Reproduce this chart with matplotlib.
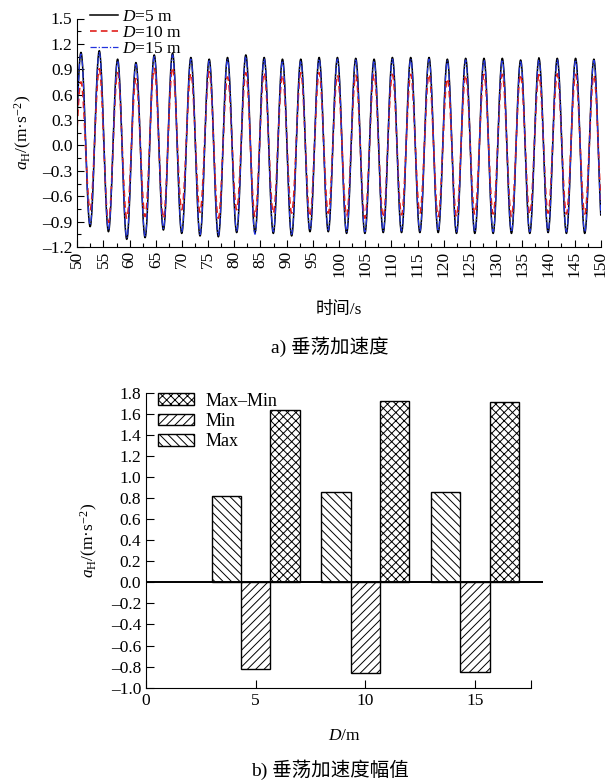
import numpy as np
import matplotlib
matplotlib.use('Agg')
import matplotlib.pyplot as plt
from matplotlib.patches import Patch
from matplotlib.lines import Line2D
from matplotlib.ticker import MultipleLocator, FixedLocator, FuncFormatter

plt.rcParams['font.family'] = ['Liberation Serif', 'Noto Sans CJK SC']
plt.rcParams['mathtext.fontset'] = 'custom'
plt.rcParams['mathtext.rm'] = 'Liberation Serif'
plt.rcParams['mathtext.it'] = 'Liberation Serif:italic'
plt.rcParams['hatch.linewidth'] = 0.7

# ---------------- data: (a) heave acceleration, extrema -------------
peak_times = [50.7, 54.2, 57.7, 61.2, 64.7, 68.2, 71.7, 75.2, 78.7, 82.2, 85.7, 89.2,
              92.7, 96.2, 99.7, 103.2, 106.7, 110.2, 113.7, 117.2, 120.7, 124.2,
              127.7, 131.2, 134.7, 138.2, 141.7, 145.2, 148.7]
trough_times = [48.95, 52.45, 55.95, 59.45, 62.95, 66.45, 69.95, 73.45, 76.95, 80.45,
                83.95, 87.45, 90.95, 94.45, 97.95, 101.45, 104.95, 108.45, 111.95,
                115.45, 118.95, 122.45, 125.95, 129.45, 132.95, 136.45, 139.95,
                143.45, 146.95, 150.35]

d5_peaks = [1.10, 1.12, 1.02, 0.98, 1.07, 1.09, 1.04, 1.02, 1.04, 1.07, 1.04, 1.02,
            1.02, 1.04, 1.04, 1.03, 1.02, 1.04, 1.04, 1.04, 1.02, 1.03, 1.03, 1.03,
            1.01, 1.03, 1.03, 1.03, 1.02]
d5_troughs = [-0.90, -0.96, -1.02, -1.11, -1.09, -1.00, -1.04, -1.07, -1.08, -1.03,
              -1.03, -1.04, -1.07, -1.02, -1.02, -1.04, -1.04, -1.03, -1.03, -1.03,
              -1.03, -1.04, -1.04, -1.04, -1.04, -1.04, -1.03, -1.04, -1.04, -1.03]

d10_peaks = [0.75, 0.90, 0.86, 0.79, 0.91, 0.92, 0.85, 0.87, 0.81, 0.86, 0.86, 0.83,
             0.86, 0.86, 0.83, 0.83, 0.84, 0.84, 0.84, 0.84, 0.79, 0.83, 0.84, 0.84,
             0.84, 0.83, 0.84, 0.84, 0.83]
d10_troughs = [-0.70, -0.76, -0.91, -0.86, -0.84, -0.86, -0.76, -0.79, -0.86, -0.76,
               -0.84, -0.80, -0.80, -0.84, -0.80, -0.83, -0.86, -0.85, -0.82, -0.80,
               -0.84, -0.84, -0.81, -0.81, -0.84, -0.81, -0.80, -0.81, -0.81, -0.81]

d15_peaks = [1.08, 1.10, 1.00, 0.96, 1.05, 1.07, 1.02, 1.00, 1.02, 1.05, 1.02, 1.00,
             1.00, 1.02, 1.02, 1.01, 1.00, 1.02, 1.02, 1.02, 1.00, 1.01, 1.01, 1.01,
             0.99, 1.01, 1.01, 1.01, 1.00]
d15_troughs = [-0.88, -0.94, -1.00, -1.09, -1.07, -0.98, -1.02, -1.05, -1.06, -1.01,
               -1.05, -1.02, -1.05, -1.00, -1.00, -1.02, -1.02, -1.01, -1.01, -1.01,
               -1.01, -1.02, -1.02, -1.02, -1.02, -1.02, -1.01, -1.02, -1.02, -1.01]

series_labels = ['$D$=5 m', '$D$=10 m', '$D$=15 m']

# ---------------- data: (b) amplitudes -------------
D_vals = [5, 10, 15]
max_vals = [0.82, 0.86, 0.86]
min_vals = [-0.82, -0.86, -0.85]
range_vals = [1.64, 1.72, 1.71]
bar_labels = ['Max\u2013Min', 'Min', 'Max']


def wave(tp, vp, tt, vt, n=30):
    times, vals = [], []
    for i in range(len(tp)):
        times += [tt[i], tp[i]]
        vals += [vt[i], vp[i]]
    times.append(tt[-1])
    vals.append(vt[-1])
    xs, ys = [], []
    s = np.linspace(0, 1, n)
    for a in range(len(times) - 1):
        t0, t1 = times[a], times[a + 1]
        y0, y1 = vals[a], vals[a + 1]
        xs.append(t0 + (t1 - t0) * s)
        ys.append((y0 + y1) / 2 + (y0 - y1) / 2 * np.cos(np.pi * s))
    return np.concatenate(xs), np.concatenate(ys)


def fmt1(v, pos=None):
    v = round(v, 2)
    if abs(v) < 1e-9:
        v = 0.0
    s = f'{abs(v):.1f}'
    return ('\u2013' + s) if v < 0 else s


fig = plt.figure(figsize=(6.08, 7.84), dpi=100)
FS = 12.5

# ---------------- (a) ----------------
ax1 = fig.add_axes([77.3 / 608, 1 - 247 / 784, (600.7 - 77.3) / 608, (247 - 18.5) / 784])
x5, y5 = wave(peak_times, d5_peaks, trough_times, d5_troughs)
x10, y10 = wave(peak_times, d10_peaks, trough_times, d10_troughs)
x15, y15 = wave(peak_times, d15_peaks, trough_times, d15_troughs)
ls10 = (0, (4, 2.5))
ls15 = (0, (5, 1.5, 1, 1.5))
ax1.plot(x5, y5, color='black', lw=1.1, ls='-')
ax1.plot(x10, y10, color='#e0201c', lw=1.2, ls=ls10)
ax1.plot(x15, y15, color='#2233dd', lw=0.9, ls=ls15)
ax1.set_xlim(50, 150)
ax1.set_ylim(-1.2, 1.5)
for sp in ['top', 'right']:
    ax1.spines[sp].set_visible(False)
ax1.xaxis.set_major_locator(MultipleLocator(5))
ax1.xaxis.set_minor_locator(MultipleLocator(2.5))
ax1.yaxis.set_major_locator(MultipleLocator(0.3))
ax1.yaxis.set_minor_locator(MultipleLocator(0.15))
ax1.yaxis.set_major_formatter(FuncFormatter(fmt1))
ax1.tick_params(which='both', direction='in', top=False, right=False, labelsize=FS)
ax1.tick_params(which='major', length=5, width=0.8)
ax1.tick_params(which='minor', length=3, width=0.8)
ax1.tick_params(axis='x', labelrotation=90, pad=3)
ax1.set_xlabel('时间/s', fontsize=FS, labelpad=18)
ax1.set_ylabel('$a_{\\mathrm{H}}$/(m·s$^{-2}$)', fontsize=FS, labelpad=6)
handles1 = [Line2D([], [], color='black', lw=1.1, ls='-'),
            Line2D([], [], color='#e0201c', lw=1.2, ls=ls10),
            Line2D([], [], color='#2233dd', lw=0.9, ls=ls15)]
ax1.legend(handles1, series_labels, loc='upper left', bbox_to_anchor=(0.024, 1.042),
           frameon=False, fontsize=12.5, borderpad=0, borderaxespad=0,
           labelspacing=-0.02, handlelength=1.6, handletextpad=0.25)
fig.text(0.543, 1 - 347 / 784, 'a) 垂荡加速度', ha='center', va='center', fontsize=14)

# ---------------- (b) ----------------
ax2 = fig.add_axes([146 / 608, 1 - 687.7 / 784, 397 / 608, 295 / 784])
w = 1.34
xs_max = [d - w for d in D_vals]
xs_min = [d for d in D_vals]
xs_rng = [d + w for d in D_vals]
ax2.bar(xs_rng, range_vals, w, color='white', edgecolor='black', lw=1.0, hatch='xxxx')
ax2.bar(xs_min, min_vals, w, color='white', edgecolor='black', lw=1.0, hatch='////')
ax2.bar(xs_max, max_vals, w, color='white', edgecolor='black', lw=1.0, hatch='\\\\\\\\')
ax2.axhline(0, color='black', lw=1.4, zorder=3)
ax2.set_xlim(0, 18.1)
ax2.set_ylim(-1.0, 1.8)
for sp in ['top', 'right']:
    ax2.spines[sp].set_visible(False)
ax2.spines['bottom'].set_bounds(0, 17.55)
ax2.set_xticks([0, 5, 10, 15])
ax2.xaxis.set_minor_locator(FixedLocator([17.55]))
ax2.yaxis.set_major_locator(MultipleLocator(0.2))
ax2.yaxis.set_major_formatter(FuncFormatter(fmt1))
ax2.tick_params(which='both', direction='in', top=False, right=False, labelsize=FS)
ax2.tick_params(which='both', length=6, width=0.8)
ax2.set_xlabel('$D$/m', fontsize=FS, labelpad=14)
ax2.set_ylabel('$a_{\\mathrm{H}}$/(m·s$^{-2}$)', fontsize=FS, labelpad=8)
handles2 = [Patch(facecolor='white', edgecolor='black', hatch='xxxx', lw=1.0),
            Patch(facecolor='white', edgecolor='black', hatch='////', lw=1.0),
            Patch(facecolor='white', edgecolor='black', hatch='\\\\\\\\', lw=1.0)]
ax2.legend(handles2, bar_labels, loc='upper left', bbox_to_anchor=(0.03, 1.0),
           frameon=False, fontsize=13, borderpad=0, borderaxespad=0,
           labelspacing=0.18, handlelength=2.0, handleheight=0.62, handletextpad=0.65)
fig.text(0.543, 1 - 770 / 784, 'b) 垂荡加速度幅值', ha='center', va='center', fontsize=14)

fig.savefig('out.png', dpi=100)
